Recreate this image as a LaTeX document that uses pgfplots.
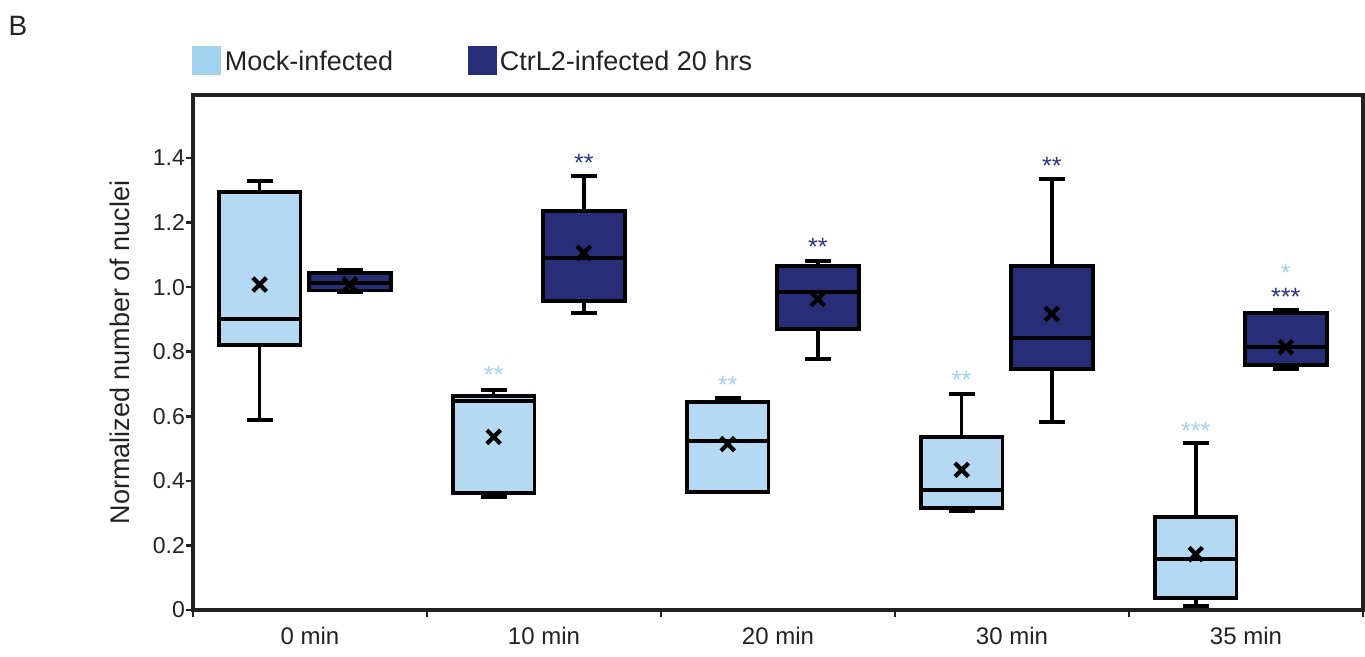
\documentclass[border=0pt]{standalone}
\usepackage{fontspec}
\setmainfont{Liberation Sans}
\usepackage{pgfplots}
\pgfplotsset{compat=1.18}
\usepgfplotslibrary{statistics}

\definecolor{mockfill}{HTML}{B5D8F3}
\definecolor{mockleg}{HTML}{A3D2EF}
\definecolor{ctrlfill}{HTML}{282D77}
\definecolor{mockstar}{HTML}{A6D0F0}
\definecolor{ctrlstar}{HTML}{2B3481}
\definecolor{axisgray}{HTML}{222222}

\pgfplotsset{
  mock/.style={draw=black, line width=1.8pt, fill=mockfill},
  ctrl/.style={draw=black, line width=1.8pt, fill=ctrlfill},
}

\begin{document}
\begin{tikzpicture}
\begin{axis}[
    width=585pt, height=257.5pt, scale only axis,
    xmin=0.5, xmax=5.5, ymin=0, ymax=1.595,
    clip=false,
    axis line style={line width=1.6pt, axisgray},
    tick align=outside, xtick pos=bottom, ytick pos=left,
    major tick length=3.5pt,
    tick style={line width=1.3pt, axisgray},
    xtick={0.5,1.5,2.5,3.5,4.5,5.5}, xticklabels={},
    extra x ticks={1,2,3,4,5},
    extra x tick labels={0 min,10 min,20 min,30 min,35 min},
    extra x tick style={major tick length=0pt},
    ytick={0,0.2,0.4,0.6,0.8,1.0,1.2,1.4},
    yticklabels={0,0.2,0.4,0.6,0.8,1.0,1.2,1.4},
    ticklabel style={font=\fontsize{11.5}{13}\selectfont, color=axisgray},
    xticklabel style={yshift=-5pt, font=\fontsize{12}{13}\selectfont},
    yticklabel style={xshift=3pt},
    ylabel={Normalized number of nuclei},
    ylabel style={at={(rel axis cs:-0.0624,0.5)}, anchor=center,
        font=\fontsize{13.5}{15}\selectfont, color=axisgray},
    boxplot/draw direction=y,
    boxplot/box extend=0.35,
    boxplot/whisker extend=0.11,
]
% 0 min
\addplot[mock, boxplot prepared={draw position=0.785, lower whisker=0.589,
    lower quartile=0.820, median=0.902, upper quartile=1.295, upper whisker=1.329}] coordinates {};
\addplot[ctrl, boxplot prepared={draw position=1.170, lower whisker=0.984,
    lower quartile=0.989, median=1.012, upper quartile=1.044, upper whisker=1.054}] coordinates {};
% 10 min
\addplot[mock, boxplot prepared={draw position=1.785, lower whisker=0.350,
    lower quartile=0.362, median=0.647, upper quartile=0.663, upper whisker=0.681}] coordinates {};
\addplot[ctrl, boxplot prepared={draw position=2.170, lower whisker=0.920,
    lower quartile=0.957, median=1.090, upper quartile=1.236, upper whisker=1.344}] coordinates {};
% 20 min
\addplot[mock, boxplot prepared={draw position=2.785, lower whisker=0.365,
    lower quartile=0.365, median=0.523, upper quartile=0.644, upper whisker=0.657}] coordinates {};
\addplot[ctrl, boxplot prepared={draw position=3.170, lower whisker=0.777,
    lower quartile=0.870, median=0.985, upper quartile=1.065, upper whisker=1.081}] coordinates {};
% 30 min
\addplot[mock, boxplot prepared={draw position=3.785, lower whisker=0.307,
    lower quartile=0.316, median=0.372, upper quartile=0.536, upper whisker=0.669}] coordinates {};
\addplot[ctrl, boxplot prepared={draw position=4.170, lower whisker=0.582,
    lower quartile=0.746, median=0.842, upper quartile=1.065, upper whisker=1.335}] coordinates {};
% 35 min
\addplot[mock, boxplot prepared={draw position=4.785, lower whisker=0.012,
    lower quartile=0.037, median=0.158, upper quartile=0.288, upper whisker=0.517}] coordinates {};
\addplot[ctrl, boxplot prepared={draw position=5.170, lower whisker=0.746,
    lower quartile=0.759, median=0.814, upper quartile=0.920, upper whisker=0.929}] coordinates {};

% means
\addplot[only marks, mark=x, mark size=4.8pt, mark options={line width=2.1pt, black}]
  coordinates {(0.785,1.008) (1.170,1.008) (1.785,0.536) (2.170,1.106)
               (2.785,0.514) (3.170,0.963) (3.785,0.434) (4.170,0.917)
               (4.785,0.173) (5.170,0.814)};

% significance stars
\begin{scope}[every node/.style={font=\fontsize{12.5}{13}\selectfont, anchor=north, inner sep=0pt}]
\node[text=mockstar] at (axis cs:1.785,0.756) {**};
\node[text=ctrlstar] at (axis cs:2.170,1.412) {**};
\node[text=mockstar] at (axis cs:2.785,0.725) {**};
\node[text=ctrlstar] at (axis cs:3.170,1.152) {**};
\node[text=mockstar] at (axis cs:3.785,0.740) {**};
\node[text=ctrlstar] at (axis cs:4.170,1.403) {**};
\node[text=mockstar] at (axis cs:4.785,0.582) {***};
\node[text=mockstar] at (axis cs:5.170,1.072) {*};
\node[text=ctrlstar] at (axis cs:5.170,0.998) {***};
\end{scope}

% legend
\node[fill=mockleg, minimum size=14.5pt, inner sep=0pt, anchor=west] at (rel axis cs:-0.001,1.066) {};
\node[anchor=west, inner sep=0pt, font=\fontsize{13.5}{15}\selectfont, color=axisgray] at (rel axis cs:0.027,1.066) {Mock-infected};
\node[fill=ctrlfill, minimum size=14.5pt, inner sep=0pt, anchor=west] at (rel axis cs:0.235,1.066) {};
\node[anchor=west, inner sep=0pt, font=\fontsize{13.5}{15}\selectfont, color=axisgray] at (rel axis cs:0.262,1.066) {CtrL2-infected 20 hrs};

% panel letter
\node[font=\fontsize{14}{16}\selectfont, color=axisgray] at (rel axis cs:-0.1496,1.134) {B};
\end{axis}
\pgfresetboundingbox
\path[use as bounding box] (current axis.south west) ++(-96.5pt,-23.5pt) rectangle ++(682.5pt,328.5pt);
\end{tikzpicture}
\end{document}
